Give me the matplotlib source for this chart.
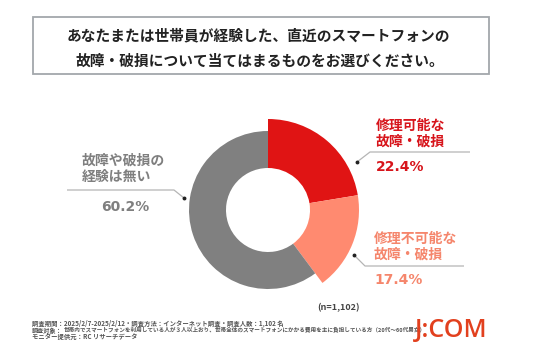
import matplotlib
matplotlib.use("Agg")
import matplotlib.pyplot as plt

plt.rcParams['font.family'] = ['Noto Sans CJK JP', 'DejaVu Sans']

# ---- data ----
categories = ['修理可能な\n故障・破損', '修理不可能な\n故障・破損', '故障や破損の\n経験は無い']
values = [22.4, 17.4, 60.2]
slice_colors = ['#E01414', '#FF8A70', '#808080']
text_colors = ['#D7141B', '#F5866C', '#7F7F7F']
title_lines = ['あなたまたは世帯員が経験した、直近のスマートフォンの',
               '故障・破損について当てはまるものをお選びください。']
n_label = '(n=1,102)'
note_lines = ['調査期間：2025/2/7-2025/2/12・調査方法：インターネット調査・調査人数：1,102 名',
              '調査対象：',
              '世帯内でスマートフォンを利用している人が３人以上おり、世帯全体のスマートフォンにかかる費用を主に負担している方（20代～60代男女）',
              'モニター提供元：RC リサーチデータ']
logo = 'J:COM'

W, H = 536, 357
fig = plt.figure(figsize=(W / 100, H / 100), dpi=100)

# ---- donut ----
cx, cy = 268, 210
r_out_hi, r_out_lo, r_in = 91, 79, 42
size = 200
axp = fig.add_axes([(cx - size / 2) / W, (H - cy - size / 2) / H, size / W, size / H])
w1, _ = axp.pie(values, radius=r_out_hi, startangle=90, counterclock=False,
                colors=slice_colors, wedgeprops=dict(width=r_out_hi - r_in, linewidth=0))
w2, _ = axp.pie(values, radius=r_out_lo, startangle=90, counterclock=False,
                colors=slice_colors, wedgeprops=dict(width=r_out_lo - r_in, linewidth=0))
for i, w in enumerate(w1):
    w.set_visible(i < 2)
for i, w in enumerate(w2):
    w.set_visible(i >= 2)
axp.set_xlim(-size / 2, size / 2)
axp.set_ylim(-size / 2, size / 2)
axp.set_aspect('equal')
axp.axis('off')

# ---- overlay ----
ax = fig.add_axes([0, 0, 1, 1])
ax.set_xlim(0, W)
ax.set_ylim(H, 0)
ax.axis('off')
ax.patch.set_alpha(0)

# title box
ax.add_patch(plt.Rectangle((33, 17), 456, 57, fill=False, edgecolor='#A3A7AB', linewidth=1.3))
ax.text(258, 35, title_lines[0], ha='center', va='center', fontsize=10.6, fontweight='bold', color='#222222')
ax.text(260, 61, title_lines[1], ha='center', va='center', fontsize=10.6, fontweight='bold', color='#222222')

lc = '#B5B5B5'
# leader lines
leaders = [
    [(357, 162), (370, 152), (470, 152)],
    [(354, 255), (365, 266), (464, 266)],
    [(184, 198), (174, 190), (67, 190)],
]
for pts in leaders:
    xs, ys = zip(*pts)
    ax.plot(xs, ys, color=lc, linewidth=0.9, solid_capstyle='butt')
    ax.plot([pts[0][0]], [pts[0][1]], 'o', color='#222222', markersize=1.8)

label_pos = [(376, 126), (374, 239), (82, 161)]
pct_pos = [(376, 167, 'left'), (374, 280, 'left'), (125, 207, 'center')]
for i, cat in enumerate(categories):
    x, y = label_pos[i]
    for j, line in enumerate(cat.split('\n')):
        ax.text(x, y + j * 16, line, ha='left', va='center', fontsize=10,
                fontweight='bold', color=text_colors[i])
    px, py, pha = pct_pos[i]
    ax.text(px, py, f'{values[i]:.1f}%', ha=pha, va='center', fontsize=10,
            fontweight='bold', color=text_colors[i], family=['DejaVu Sans'])

ax.text(338, 308, n_label, ha='center', va='center', fontsize=6.5, fontweight='bold', color='#444444')

# notes
nc = '#555555'
ax.text(32, 323, note_lines[0], ha='left', va='center', fontsize=4.55, fontweight='bold', color=nc)
ax.text(32, 330, note_lines[1], ha='left', va='center', fontsize=4.4, fontweight='bold', color=nc)
ax.text(64, 330, note_lines[2], ha='left', va='center', fontsize=4.05, fontweight='bold', color=nc)
ax.text(32, 337, note_lines[3], ha='left', va='center', fontsize=4.55, fontweight='bold', color=nc)

ax.text(451, 331, logo, ha='center', va='center', fontsize=18, color='#E2401E',
        family=['Open Sans', 'DejaVu Sans'], fontweight='semibold')

fig.savefig('out.png', dpi=100, facecolor='white')
